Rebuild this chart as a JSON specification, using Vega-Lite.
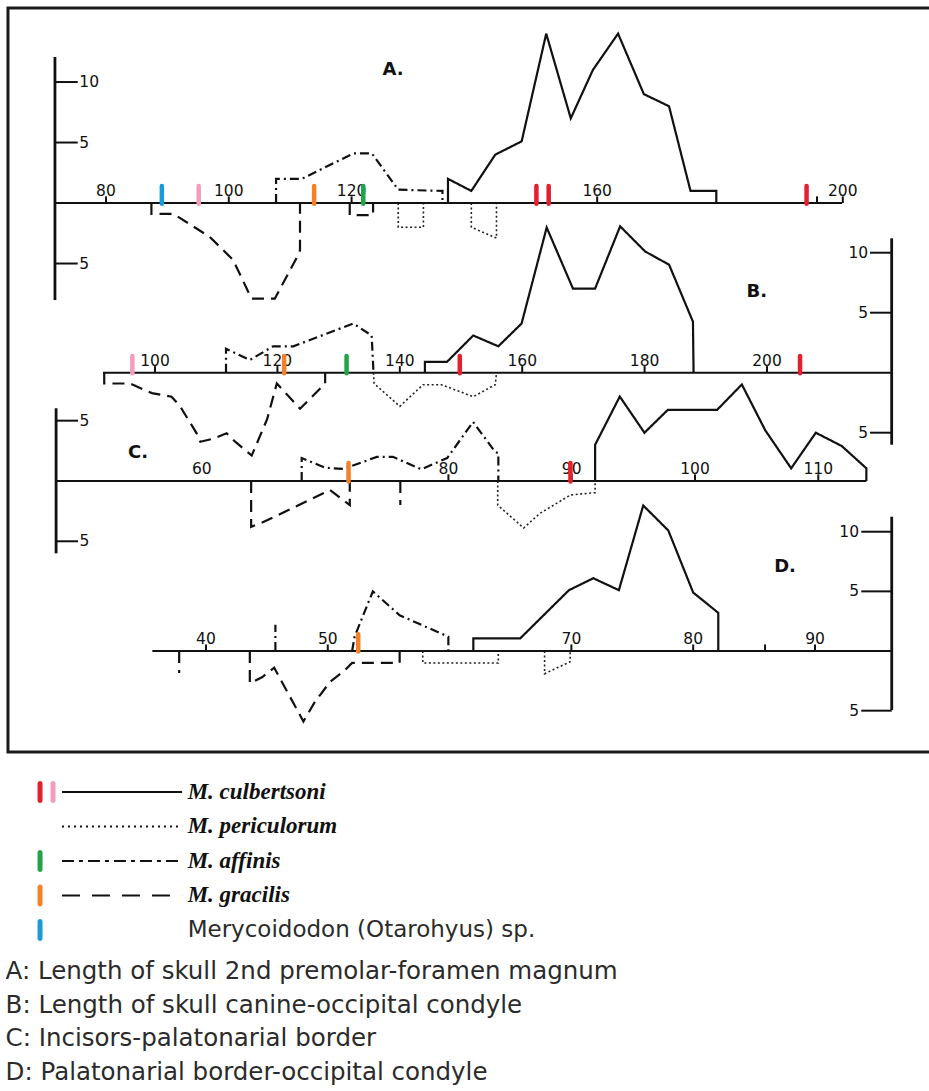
{
  "$schema": "https://vega.github.io/schema/vega-lite/v6.json",
  "width": 929,
  "height": 1091,
  "autosize": {"type": "fit", "contains": "padding"},
  "padding": 0,
  "background": "white",
  "config": {"view": {"stroke": null}, "axis": {"disable": true}},
  "datasets": {
    "curves": [
      {"p":"A","sp":"culbertsoni","seg":1,"i":1,"x":135.7,"y":0},
      {"p":"A","sp":"culbertsoni","seg":1,"i":2,"x":135.7,"y":2},
      {"p":"A","sp":"culbertsoni","seg":1,"i":3,"x":139.5,"y":1},
      {"p":"A","sp":"culbertsoni","seg":1,"i":4,"x":143.4,"y":4},
      {"p":"A","sp":"culbertsoni","seg":1,"i":5,"x":147.7,"y":5.1},
      {"p":"A","sp":"culbertsoni","seg":1,"i":6,"x":151.7,"y":14},
      {"p":"A","sp":"culbertsoni","seg":1,"i":7,"x":155.7,"y":7},
      {"p":"A","sp":"culbertsoni","seg":1,"i":8,"x":159.3,"y":11},
      {"p":"A","sp":"culbertsoni","seg":1,"i":9,"x":163.4,"y":14},
      {"p":"A","sp":"culbertsoni","seg":1,"i":10,"x":167.6,"y":9},
      {"p":"A","sp":"culbertsoni","seg":1,"i":11,"x":171.7,"y":8},
      {"p":"A","sp":"culbertsoni","seg":1,"i":12,"x":175.2,"y":1},
      {"p":"A","sp":"culbertsoni","seg":1,"i":13,"x":179.4,"y":1},
      {"p":"A","sp":"culbertsoni","seg":1,"i":14,"x":179.4,"y":0},
      {"p":"A","sp":"periculorum","seg":1,"i":1,"x":127.6,"y":0},
      {"p":"A","sp":"periculorum","seg":1,"i":2,"x":127.6,"y":-2},
      {"p":"A","sp":"periculorum","seg":1,"i":3,"x":131.7,"y":-2},
      {"p":"A","sp":"periculorum","seg":1,"i":4,"x":131.7,"y":0},
      {"p":"A","sp":"periculorum","seg":2,"i":1,"x":139.5,"y":0},
      {"p":"A","sp":"periculorum","seg":2,"i":2,"x":139.5,"y":-2},
      {"p":"A","sp":"periculorum","seg":2,"i":3,"x":143.6,"y":-2.9},
      {"p":"A","sp":"periculorum","seg":2,"i":4,"x":143.6,"y":0},
      {"p":"A","sp":"affinis","seg":1,"i":1,"x":107.7,"y":0},
      {"p":"A","sp":"affinis","seg":1,"i":2,"x":107.7,"y":2},
      {"p":"A","sp":"affinis","seg":1,"i":3,"x":111.9,"y":2},
      {"p":"A","sp":"affinis","seg":1,"i":4,"x":120.3,"y":4.1},
      {"p":"A","sp":"affinis","seg":1,"i":5,"x":123.3,"y":4.1},
      {"p":"A","sp":"affinis","seg":1,"i":6,"x":127.6,"y":1.1},
      {"p":"A","sp":"affinis","seg":1,"i":7,"x":134.8,"y":1},
      {"p":"A","sp":"affinis","seg":1,"i":8,"x":134.8,"y":0},
      {"p":"A","sp":"gracilis","seg":1,"i":1,"x":87.4,"y":0},
      {"p":"A","sp":"gracilis","seg":1,"i":2,"x":87.4,"y":-0.9},
      {"p":"A","sp":"gracilis","seg":1,"i":3,"x":91.0,"y":-0.9},
      {"p":"A","sp":"gracilis","seg":1,"i":4,"x":96.9,"y":-2.8},
      {"p":"A","sp":"gracilis","seg":1,"i":5,"x":100.7,"y":-4.7},
      {"p":"A","sp":"gracilis","seg":1,"i":6,"x":103.7,"y":-7.9},
      {"p":"A","sp":"gracilis","seg":1,"i":7,"x":107.5,"y":-7.9},
      {"p":"A","sp":"gracilis","seg":1,"i":8,"x":111.4,"y":-4.2},
      {"p":"A","sp":"gracilis","seg":1,"i":9,"x":111.6,"y":-3.9},
      {"p":"A","sp":"gracilis","seg":1,"i":10,"x":111.6,"y":0},
      {"p":"A","sp":"gracilis","seg":2,"i":1,"x":119.7,"y":0},
      {"p":"A","sp":"gracilis","seg":2,"i":2,"x":119.7,"y":-1},
      {"p":"A","sp":"gracilis","seg":2,"i":3,"x":123.5,"y":-1},
      {"p":"A","sp":"gracilis","seg":2,"i":4,"x":123.5,"y":0},

      {"p":"B","sp":"culbertsoni","seg":1,"i":1,"x":144.1,"y":0},
      {"p":"B","sp":"culbertsoni","seg":1,"i":2,"x":144.1,"y":0.9},
      {"p":"B","sp":"culbertsoni","seg":1,"i":3,"x":147.7,"y":0.9},
      {"p":"B","sp":"culbertsoni","seg":1,"i":4,"x":152.0,"y":3.1},
      {"p":"B","sp":"culbertsoni","seg":1,"i":5,"x":156.1,"y":2.2},
      {"p":"B","sp":"culbertsoni","seg":1,"i":6,"x":159.9,"y":4.1},
      {"p":"B","sp":"culbertsoni","seg":1,"i":7,"x":164.0,"y":12.1},
      {"p":"B","sp":"culbertsoni","seg":1,"i":8,"x":168.3,"y":7},
      {"p":"B","sp":"culbertsoni","seg":1,"i":9,"x":171.9,"y":7},
      {"p":"B","sp":"culbertsoni","seg":1,"i":10,"x":176.0,"y":12.2},
      {"p":"B","sp":"culbertsoni","seg":1,"i":11,"x":180.1,"y":10.1},
      {"p":"B","sp":"culbertsoni","seg":1,"i":12,"x":184.0,"y":9},
      {"p":"B","sp":"culbertsoni","seg":1,"i":13,"x":187.9,"y":4.25},
      {"p":"B","sp":"culbertsoni","seg":1,"i":14,"x":188.0,"y":0},
      {"p":"B","sp":"periculorum","seg":1,"i":1,"x":135.7,"y":0},
      {"p":"B","sp":"periculorum","seg":1,"i":2,"x":135.8,"y":-0.9},
      {"p":"B","sp":"periculorum","seg":1,"i":3,"x":140.0,"y":-2.8},
      {"p":"B","sp":"periculorum","seg":1,"i":4,"x":143.8,"y":-1.0},
      {"p":"B","sp":"periculorum","seg":1,"i":5,"x":146.8,"y":-1.0},
      {"p":"B","sp":"periculorum","seg":1,"i":6,"x":152.0,"y":-2.0},
      {"p":"B","sp":"periculorum","seg":1,"i":7,"x":155.6,"y":-1.0},
      {"p":"B","sp":"periculorum","seg":1,"i":8,"x":155.8,"y":0},
      {"p":"B","sp":"affinis","seg":1,"i":1,"x":111.6,"y":0},
      {"p":"B","sp":"affinis","seg":1,"i":2,"x":111.6,"y":2.0},
      {"p":"B","sp":"affinis","seg":1,"i":3,"x":115.5,"y":1.06},
      {"p":"B","sp":"affinis","seg":1,"i":4,"x":119.3,"y":2.2},
      {"p":"B","sp":"affinis","seg":1,"i":5,"x":122.6,"y":2.2},
      {"p":"B","sp":"affinis","seg":1,"i":6,"x":132.4,"y":4.1},
      {"p":"B","sp":"affinis","seg":1,"i":7,"x":135.4,"y":3.1},
      {"p":"B","sp":"affinis","seg":1,"i":8,"x":135.7,"y":0},
      {"p":"B","sp":"gracilis","seg":1,"i":1,"x":91.7,"y":0},
      {"p":"B","sp":"gracilis","seg":1,"i":2,"x":91.7,"y":-0.9},
      {"p":"B","sp":"gracilis","seg":1,"i":3,"x":95.9,"y":-0.9},
      {"p":"B","sp":"gracilis","seg":1,"i":4,"x":99.5,"y":-1.7},
      {"p":"B","sp":"gracilis","seg":1,"i":5,"x":102.7,"y":-2.0},
      {"p":"B","sp":"gracilis","seg":1,"i":6,"x":104.1,"y":-2.8},
      {"p":"B","sp":"gracilis","seg":1,"i":7,"x":106.8,"y":-5.05},
      {"p":"B","sp":"gracilis","seg":1,"i":8,"x":107.4,"y":-5.75},
      {"p":"B","sp":"gracilis","seg":1,"i":9,"x":109.5,"y":-5.5},
      {"p":"B","sp":"gracilis","seg":1,"i":10,"x":111.7,"y":-5.05},
      {"p":"B","sp":"gracilis","seg":1,"i":11,"x":113.1,"y":-5.75},
      {"p":"B","sp":"gracilis","seg":1,"i":12,"x":115.8,"y":-6.9},
      {"p":"B","sp":"gracilis","seg":1,"i":13,"x":118.3,"y":-3.9},
      {"p":"B","sp":"gracilis","seg":1,"i":14,"x":119.9,"y":-0.9},
      {"p":"B","sp":"gracilis","seg":1,"i":15,"x":123.7,"y":-3.0},
      {"p":"B","sp":"gracilis","seg":1,"i":16,"x":127.8,"y":-0.9},
      {"p":"B","sp":"gracilis","seg":1,"i":17,"x":127.8,"y":0},

      {"p":"C","sp":"culbertsoni","seg":1,"i":1,"x":91.9,"y":0},
      {"p":"C","sp":"culbertsoni","seg":1,"i":2,"x":91.9,"y":3},
      {"p":"C","sp":"culbertsoni","seg":1,"i":3,"x":93.9,"y":7},
      {"p":"C","sp":"culbertsoni","seg":1,"i":4,"x":95.9,"y":4},
      {"p":"C","sp":"culbertsoni","seg":1,"i":5,"x":97.8,"y":5.9},
      {"p":"C","sp":"culbertsoni","seg":1,"i":6,"x":101.8,"y":5.9},
      {"p":"C","sp":"culbertsoni","seg":1,"i":7,"x":103.8,"y":8},
      {"p":"C","sp":"culbertsoni","seg":1,"i":8,"x":105.7,"y":4.2},
      {"p":"C","sp":"culbertsoni","seg":1,"i":9,"x":107.8,"y":1.05},
      {"p":"C","sp":"culbertsoni","seg":1,"i":10,"x":109.8,"y":4},
      {"p":"C","sp":"culbertsoni","seg":1,"i":11,"x":111.9,"y":2.9},
      {"p":"C","sp":"culbertsoni","seg":1,"i":12,"x":113.9,"y":1.05},
      {"p":"C","sp":"culbertsoni","seg":1,"i":13,"x":113.9,"y":0},
      {"p":"C","sp":"periculorum","seg":1,"i":1,"x":84.0,"y":0},
      {"p":"C","sp":"periculorum","seg":1,"i":2,"x":84.0,"y":-2.0},
      {"p":"C","sp":"periculorum","seg":1,"i":3,"x":86.1,"y":-3.9},
      {"p":"C","sp":"periculorum","seg":1,"i":4,"x":87.4,"y":-2.7},
      {"p":"C","sp":"periculorum","seg":1,"i":5,"x":89.9,"y":-1.16},
      {"p":"C","sp":"periculorum","seg":1,"i":6,"x":91.9,"y":-0.97},
      {"p":"C","sp":"periculorum","seg":1,"i":7,"x":91.9,"y":0},
      {"p":"C","sp":"affinis","seg":1,"i":1,"x":68.1,"y":0},
      {"p":"C","sp":"affinis","seg":1,"i":2,"x":68.1,"y":1.9},
      {"p":"C","sp":"affinis","seg":1,"i":3,"x":70.0,"y":1.1},
      {"p":"C","sp":"affinis","seg":1,"i":4,"x":71.5,"y":1.0},
      {"p":"C","sp":"affinis","seg":1,"i":5,"x":74.2,"y":2.0},
      {"p":"C","sp":"affinis","seg":1,"i":6,"x":75.5,"y":2.0},
      {"p":"C","sp":"affinis","seg":1,"i":7,"x":77.8,"y":0.97},
      {"p":"C","sp":"affinis","seg":1,"i":8,"x":79.9,"y":1.9},
      {"p":"C","sp":"affinis","seg":1,"i":9,"x":82.0,"y":4.9},
      {"p":"C","sp":"affinis","seg":1,"i":10,"x":83.8,"y":2.4},
      {"p":"C","sp":"affinis","seg":1,"i":11,"x":84.05,"y":2.3},
      {"p":"C","sp":"affinis","seg":1,"i":12,"x":84.05,"y":0},
      {"p":"C","sp":"gracilis","seg":1,"i":1,"x":64.0,"y":0},
      {"p":"C","sp":"gracilis","seg":1,"i":2,"x":64.0,"y":-3.8},
      {"p":"C","sp":"gracilis","seg":1,"i":3,"x":64.9,"y":-3.45},
      {"p":"C","sp":"gracilis","seg":1,"i":4,"x":70.4,"y":-0.75},
      {"p":"C","sp":"gracilis","seg":1,"i":5,"x":72.0,"y":-2.0},
      {"p":"C","sp":"gracilis","seg":1,"i":6,"x":72.0,"y":0},
      {"p":"C","sp":"gracilis","seg":2,"i":1,"x":76.1,"y":0},
      {"p":"C","sp":"gracilis","seg":2,"i":2,"x":76.1,"y":-2.0},

      {"p":"D","sp":"culbertsoni","seg":1,"i":1,"x":61.95,"y":0},
      {"p":"D","sp":"culbertsoni","seg":1,"i":2,"x":61.95,"y":1.06},
      {"p":"D","sp":"culbertsoni","seg":1,"i":3,"x":65.8,"y":1.06},
      {"p":"D","sp":"culbertsoni","seg":1,"i":4,"x":69.8,"y":5.1},
      {"p":"D","sp":"culbertsoni","seg":1,"i":5,"x":71.8,"y":6.1},
      {"p":"D","sp":"culbertsoni","seg":1,"i":6,"x":73.9,"y":5.1},
      {"p":"D","sp":"culbertsoni","seg":1,"i":7,"x":75.9,"y":12.2},
      {"p":"D","sp":"culbertsoni","seg":1,"i":8,"x":77.96,"y":10.1},
      {"p":"D","sp":"culbertsoni","seg":1,"i":9,"x":80.0,"y":4.9},
      {"p":"D","sp":"culbertsoni","seg":1,"i":10,"x":82.06,"y":3.2},
      {"p":"D","sp":"culbertsoni","seg":1,"i":11,"x":82.06,"y":0},
      {"p":"D","sp":"periculorum","seg":1,"i":1,"x":57.8,"y":0},
      {"p":"D","sp":"periculorum","seg":1,"i":2,"x":57.8,"y":-1},
      {"p":"D","sp":"periculorum","seg":1,"i":3,"x":64.0,"y":-1},
      {"p":"D","sp":"periculorum","seg":1,"i":4,"x":64.0,"y":0},
      {"p":"D","sp":"periculorum","seg":2,"i":1,"x":67.8,"y":0},
      {"p":"D","sp":"periculorum","seg":2,"i":2,"x":67.8,"y":-1.9},
      {"p":"D","sp":"periculorum","seg":2,"i":3,"x":69.9,"y":-0.9},
      {"p":"D","sp":"periculorum","seg":2,"i":4,"x":69.9,"y":0},
      {"p":"D","sp":"affinis","seg":1,"i":1,"x":52.0,"y":0},
      {"p":"D","sp":"affinis","seg":1,"i":2,"x":52.2,"y":1.2},
      {"p":"D","sp":"affinis","seg":1,"i":3,"x":53.7,"y":5.0},
      {"p":"D","sp":"affinis","seg":1,"i":4,"x":55.9,"y":3.0},
      {"p":"D","sp":"affinis","seg":1,"i":5,"x":59.9,"y":1.2},
      {"p":"D","sp":"affinis","seg":1,"i":6,"x":59.9,"y":0},
      {"p":"D","sp":"affinis","seg":2,"i":1,"x":45.7,"y":0},
      {"p":"D","sp":"affinis","seg":2,"i":2,"x":45.7,"y":2.2},
      {"p":"D","sp":"gracilis","seg":1,"i":1,"x":37.8,"y":0},
      {"p":"D","sp":"gracilis","seg":1,"i":2,"x":37.8,"y":-1.85},
      {"p":"D","sp":"gracilis","seg":2,"i":1,"x":43.6,"y":0},
      {"p":"D","sp":"gracilis","seg":2,"i":2,"x":43.6,"y":-2.7},
      {"p":"D","sp":"gracilis","seg":2,"i":3,"x":44.6,"y":-2.2},
      {"p":"D","sp":"gracilis","seg":2,"i":4,"x":45.6,"y":-1.4},
      {"p":"D","sp":"gracilis","seg":2,"i":5,"x":48.0,"y":-5.9},
      {"p":"D","sp":"gracilis","seg":2,"i":6,"x":48.95,"y":-4.25},
      {"p":"D","sp":"gracilis","seg":2,"i":7,"x":50.2,"y":-2.57},
      {"p":"D","sp":"gracilis","seg":2,"i":8,"x":51.3,"y":-1.7},
      {"p":"D","sp":"gracilis","seg":2,"i":9,"x":52.0,"y":-1.0},
      {"p":"D","sp":"gracilis","seg":2,"i":10,"x":55.9,"y":-1.0},
      {"p":"D","sp":"gracilis","seg":2,"i":11,"x":55.9,"y":0}
    ],
    "markers": [
      {"p":"A","mk":"otarohyus","x":89.1},
      {"p":"A","mk":"cul_pink","x":95.1},
      {"p":"A","mk":"gracilis","x":113.9},
      {"p":"A","mk":"affinis","x":121.9},
      {"p":"A","mk":"cul_red","x":150.1},
      {"p":"A","mk":"cul_red","x":152.1},
      {"p":"A","mk":"cul_red","x":194.1},
      {"p":"B","mk":"cul_pink","x":96.3},
      {"p":"B","mk":"gracilis","x":121.1},
      {"p":"B","mk":"affinis","x":131.3},
      {"p":"B","mk":"cul_red","x":149.8},
      {"p":"B","mk":"cul_red","x":205.4},
      {"p":"C","mk":"gracilis","x":71.9},
      {"p":"C","mk":"cul_red","x":89.9},
      {"p":"D","mk":"gracilis","x":52.5}
    ],
    "ticks": [
      {"p":"A","x":80,"label":"80"},
      {"p":"A","x":100,"label":"100"},
      {"p":"A","x":120,"label":"120"},
      {"p":"A","x":160,"label":"160"},
      {"p":"A","x":195.8,"label":""},
      {"p":"A","x":200,"label":"200"},
      {"p":"B","x":100,"label":"100"},
      {"p":"B","x":120,"label":"120"},
      {"p":"B","x":140,"label":"140"},
      {"p":"B","x":160,"label":"160"},
      {"p":"B","x":180,"label":"180"},
      {"p":"B","x":200,"label":"200"},
      {"p":"C","x":60,"label":"60"},
      {"p":"C","x":80,"label":"80"},
      {"p":"C","x":90,"label":"90"},
      {"p":"C","x":100,"label":"100"},
      {"p":"C","x":110,"label":"110"},
      {"p":"D","x":40,"label":"40"},
      {"p":"D","x":50,"label":"50"},
      {"p":"D","x":70,"label":"70"},
      {"p":"D","x":80,"label":"80"},
      {"p":"D","x":85.9,"label":""},
      {"p":"D","x":90,"label":"90"}
    ],
    "yticks": [
      {"p":"A","v":10,"label":"10"},
      {"p":"A","v":5,"label":"5"},
      {"p":"A","v":-5,"label":"5"},
      {"p":"B","v":10,"label":"10"},
      {"p":"B","v":5,"label":"5"},
      {"p":"B","v":-5,"label":"5"},
      {"p":"C","v":5,"label":"5"},
      {"p":"C","v":-5,"label":"5"},
      {"p":"D","v":10,"label":"10"},
      {"p":"D","v":5,"label":"5"},
      {"p":"D","v":-5,"label":"5"}
    ],
    "panels": [
      {"p":"A","name":"A."},
      {"p":"B","name":"B."},
      {"p":"C","name":"C."},
      {"p":"D","name":"D."}
    ],
    "legend": [
      {"row":1,"sp":"culbertsoni","name":"M. culbertsoni"},
      {"row":2,"sp":"periculorum","name":"M. periculorum"},
      {"row":3,"sp":"affinis","name":"M. affinis"},
      {"row":4,"sp":"gracilis","name":"M. gracilis"}
    ],
    "legendOther": [
      {"row":5,"name":"Merycoidodon (Otarohyus) sp."}
    ],
    "legendMarks": [
      {"row":1,"mk":"cul_red"},
      {"row":1,"mk":"cul_pink"},
      {"row":3,"mk":"affinis"},
      {"row":4,"mk":"gracilis"},
      {"row":5,"mk":"otarohyus"}
    ],
    "captions": [
      {"k":1,"text":"A: Length of skull 2nd premolar-foramen magnum"},
      {"k":2,"text":"B: Length of skull canine-occipital condyle"},
      {"k":3,"text":"C: Incisors-palatonarial border"},
      {"k":4,"text":"D: Palatonarial border-occipital condyle"}
    ]
  },
  "resolve": {"scale": {"x": "independent", "y": "independent", "color": "independent", "strokeDash": "independent"}},
  "layer": [
    {
      "layer": [
        {"data":{"values":[{}]},"mark":{"type":"rect","fill":"transparent","stroke":"#1a1a1a","strokeWidth":3,"clip":true},
         "encoding":{"x":{"datum":64.04,"type":"quantitative","scale":{"domain":[62.74,214.04],"nice":false,"zero":false}},"x2":{"datum":218},
                     "y":{"datum":16.12,"type":"quantitative","scale":{"domain":[-73.39,16.78],"nice":false,"zero":false}},"y2":{"datum":-45.37}}},
        {"data":{"name":"curves"},"transform":[{"filter":"datum.p==='A' && datum.sp!=='periculorum'"}],
         "mark":{"type":"line","strokeWidth":2.2,"color":"#111","strokeJoin":"miter"},
         "encoding":{"x":{"field":"x","type":"quantitative","scale":{"domain":[62.74,214.04],"nice":false,"zero":false}},
                     "y":{"field":"y","type":"quantitative","scale":{"domain":[-73.39,16.78],"nice":false,"zero":false}},
                     "order":{"field":"i","type":"quantitative"},"detail":{"field":"seg","type":"nominal"},
                     "strokeDash":{"field":"sp","type":"nominal","scale":{"domain":["culbertsoni","affinis","gracilis"],"range":[[1,0],[9,4,2,4],[12,7]]},"legend":null}}},
        {"data":{"name":"curves"},"transform":[{"filter":"datum.p==='A' && datum.sp==='periculorum'"}],
         "mark":{"type":"line","strokeWidth":1.6,"color":"#222","strokeDash":[2,2.5]},
         "encoding":{"x":{"field":"x","type":"quantitative","scale":{"domain":[62.74,214.04],"nice":false,"zero":false}},
                     "y":{"field":"y","type":"quantitative","scale":{"domain":[-73.39,16.78],"nice":false,"zero":false}},
                     "order":{"field":"i","type":"quantitative"},"detail":{"field":"seg","type":"nominal"}}},
        {"data":{"values":[{}]},"mark":{"type":"rule","strokeWidth":2,"color":"#111"},
         "encoding":{"x":{"datum":71.69,"type":"quantitative","scale":{"domain":[62.74,214.04],"nice":false,"zero":false}},"x2":{"datum":199.9},
                     "y":{"datum":0,"type":"quantitative","scale":{"domain":[-73.39,16.78],"nice":false,"zero":false}}}},
        {"data":{"name":"ticks"},"transform":[{"filter":"datum.p==='A'"}],"mark":{"type":"rule","strokeWidth":2,"color":"#111"},
         "encoding":{"x":{"field":"x","type":"quantitative","scale":{"domain":[62.74,214.04],"nice":false,"zero":false}},
                     "y":{"datum":0,"type":"quantitative","scale":{"domain":[-73.39,16.78],"nice":false,"zero":false}},"y2":{"datum":0.55}}},
        {"data":{"name":"ticks"},"transform":[{"filter":"datum.p==='A' && datum.label!==''"}],
         "mark":{"type":"text","font":"DejaVu Sans","fontSize":15.5,"color":"#111","baseline":"alphabetic","dy":-7},
         "encoding":{"x":{"field":"x","type":"quantitative","scale":{"domain":[62.74,214.04],"nice":false,"zero":false}},
                     "y":{"datum":0,"type":"quantitative","scale":{"domain":[-73.39,16.78],"nice":false,"zero":false}},"text":{"field":"label"}}},
        {"data":{"name":"markers"},"transform":[{"filter":"datum.p==='A'"}],"mark":{"type":"rule","strokeWidth":4.5,"strokeCap":"round","opacity":1},
         "encoding":{"x":{"field":"x","type":"quantitative","scale":{"domain":[62.74,214.04],"nice":false,"zero":false}},
                     "y":{"datum":-0.05,"type":"quantitative","scale":{"domain":[-73.39,16.78],"nice":false,"zero":false}},"y2":{"datum":1.4},
                     "color":{"field":"mk","type":"nominal","scale":{"domain":["cul_red","cul_pink","affinis","gracilis","otarohyus"],"range":["#e5202e","#f59bbd","#22a34a","#f58025","#1c9ad6"]},"legend":null}}},
        {"data":{"values":[{}]},"mark":{"type":"rule","strokeWidth":2.8,"color":"#111"},
         "encoding":{"x":{"datum":71.69,"type":"quantitative","scale":{"domain":[62.74,214.04],"nice":false,"zero":false}},
                     "y":{"datum":12.07,"type":"quantitative","scale":{"domain":[-73.39,16.78],"nice":false,"zero":false}},"y2":{"datum":-8.02}}},
        {"data":{"name":"yticks"},"transform":[{"filter":"datum.p==='A'"}],"mark":{"type":"rule","strokeWidth":2,"color":"#111"},
         "encoding":{"x":{"datum":71.69,"type":"quantitative","scale":{"domain":[62.74,214.04],"nice":false,"zero":false}},"x2":{"datum":75.4},
                     "y":{"field":"v","type":"quantitative","scale":{"domain":[-73.39,16.78],"nice":false,"zero":false}}}},
        {"data":{"name":"yticks"},"transform":[{"filter":"datum.p==='A'"}],
         "mark":{"type":"text","font":"DejaVu Sans","fontSize":15.5,"color":"#111","align":"left","baseline":"middle","dx":1},
         "encoding":{"x":{"datum":75.5,"type":"quantitative","scale":{"domain":[62.74,214.04],"nice":false,"zero":false}},
                     "y":{"field":"v","type":"quantitative","scale":{"domain":[-73.39,16.78],"nice":false,"zero":false}},"text":{"field":"label"}}},
        {"data":{"name":"panels"},"transform":[{"filter":"datum.p==='A'"}],
         "mark":{"type":"text","font":"DejaVu Sans","fontWeight":"bold","fontSize":18,"color":"#111","align":"center","baseline":"middle"},
         "encoding":{"x":{"datum":126.74,"type":"quantitative","scale":{"domain":[62.74,214.04],"nice":false,"zero":false}},
                     "y":{"datum":10.99,"type":"quantitative","scale":{"domain":[-73.39,16.78],"nice":false,"zero":false}},"text":{"field":"name"}}}
      ]
    },
    {
      "layer": [
        {"data":{"name":"curves"},"transform":[{"filter":"datum.p==='B' && datum.sp!=='periculorum'"}],
         "mark":{"type":"line","strokeWidth":2.2,"color":"#111","strokeJoin":"miter"},
         "encoding":{"x":{"field":"x","type":"quantitative","scale":{"domain":[74.67,226.47],"nice":false,"zero":false}},
                     "y":{"field":"y","type":"quantitative","scale":{"domain":[-59.86,31.06],"nice":false,"zero":false}},
                     "order":{"field":"i","type":"quantitative"},"detail":{"field":"seg","type":"nominal"},
                     "strokeDash":{"field":"sp","type":"nominal","scale":{"domain":["culbertsoni","affinis","gracilis"],"range":[[1,0],[9,4,2,4],[12,7]]},"legend":null}}},
        {"data":{"name":"curves"},"transform":[{"filter":"datum.p==='B' && datum.sp==='periculorum'"}],
         "mark":{"type":"line","strokeWidth":1.6,"color":"#222","strokeDash":[2,2.5]},
         "encoding":{"x":{"field":"x","type":"quantitative","scale":{"domain":[74.67,226.47],"nice":false,"zero":false}},
                     "y":{"field":"y","type":"quantitative","scale":{"domain":[-59.86,31.06],"nice":false,"zero":false}},
                     "order":{"field":"i","type":"quantitative"},"detail":{"field":"seg","type":"nominal"}}},
        {"data":{"values":[{}]},"mark":{"type":"rule","strokeWidth":2,"color":"#111"},
         "encoding":{"x":{"datum":91.5,"type":"quantitative","scale":{"domain":[74.67,226.47],"nice":false,"zero":false}},"x2":{"datum":220.37},
                     "y":{"datum":0,"type":"quantitative","scale":{"domain":[-59.86,31.06],"nice":false,"zero":false}}}},
        {"data":{"name":"ticks"},"transform":[{"filter":"datum.p==='B'"}],"mark":{"type":"rule","strokeWidth":2,"color":"#111"},
         "encoding":{"x":{"field":"x","type":"quantitative","scale":{"domain":[74.67,226.47],"nice":false,"zero":false}},
                     "y":{"datum":0,"type":"quantitative","scale":{"domain":[-59.86,31.06],"nice":false,"zero":false}},"y2":{"datum":0.55}}},
        {"data":{"name":"ticks"},"transform":[{"filter":"datum.p==='B' && datum.label!==''"}],
         "mark":{"type":"text","font":"DejaVu Sans","fontSize":15.5,"color":"#111","baseline":"alphabetic","dy":-7},
         "encoding":{"x":{"field":"x","type":"quantitative","scale":{"domain":[74.67,226.47],"nice":false,"zero":false}},
                     "y":{"datum":0,"type":"quantitative","scale":{"domain":[-59.86,31.06],"nice":false,"zero":false}},"text":{"field":"label"}}},
        {"data":{"name":"markers"},"transform":[{"filter":"datum.p==='B'"}],"mark":{"type":"rule","strokeWidth":4.5,"strokeCap":"round","opacity":1},
         "encoding":{"x":{"field":"x","type":"quantitative","scale":{"domain":[74.67,226.47],"nice":false,"zero":false}},
                     "y":{"datum":-0.05,"type":"quantitative","scale":{"domain":[-59.86,31.06],"nice":false,"zero":false}},"y2":{"datum":1.4},
                     "color":{"field":"mk","type":"nominal","scale":{"domain":["cul_red","cul_pink","affinis","gracilis","otarohyus"],"range":["#e5202e","#f59bbd","#22a34a","#f58025","#1c9ad6"]},"legend":null}}},
        {"data":{"values":[{}]},"mark":{"type":"rule","strokeWidth":2.8,"color":"#111"},
         "encoding":{"x":{"datum":220.37,"type":"quantitative","scale":{"domain":[74.67,226.47],"nice":false,"zero":false}},
                     "y":{"datum":11.2,"type":"quantitative","scale":{"domain":[-59.86,31.06],"nice":false,"zero":false}},"y2":{"datum":-6.0}}},
        {"data":{"name":"yticks"},"transform":[{"filter":"datum.p==='B'"}],"mark":{"type":"rule","strokeWidth":2,"color":"#111"},
         "encoding":{"x":{"datum":216.83,"type":"quantitative","scale":{"domain":[74.67,226.47],"nice":false,"zero":false}},"x2":{"datum":220.37},
                     "y":{"field":"v","type":"quantitative","scale":{"domain":[-59.86,31.06],"nice":false,"zero":false}}}},
        {"data":{"name":"yticks"},"transform":[{"filter":"datum.p==='B'"}],
         "mark":{"type":"text","font":"DejaVu Sans","fontSize":15.5,"color":"#111","align":"right","baseline":"middle","dx":-1},
         "encoding":{"x":{"datum":216.7,"type":"quantitative","scale":{"domain":[74.67,226.47],"nice":false,"zero":false}},
                     "y":{"field":"v","type":"quantitative","scale":{"domain":[-59.86,31.06],"nice":false,"zero":false}},"text":{"field":"label"}}},
        {"data":{"name":"panels"},"transform":[{"filter":"datum.p==='B'"}],
         "mark":{"type":"text","font":"DejaVu Sans","fontWeight":"bold","fontSize":18,"color":"#111","align":"center","baseline":"middle"},
         "encoding":{"x":{"datum":198.32,"type":"quantitative","scale":{"domain":[74.67,226.47],"nice":false,"zero":false}},
                     "y":{"datum":6.75,"type":"quantitative","scale":{"domain":[-59.86,31.06],"nice":false,"zero":false}},"text":{"field":"name"}}}
      ]
    },
    {
      "layer": [
        {"data":{"name":"curves"},"transform":[{"filter":"datum.p==='C' && datum.sp!=='periculorum'"}],
         "mark":{"type":"line","strokeWidth":2.2,"color":"#111","strokeJoin":"miter"},
         "encoding":{"x":{"field":"x","type":"quantitative","scale":{"domain":[43.63,118.98],"nice":false,"zero":false}},
                     "y":{"field":"y","type":"quantitative","scale":{"domain":[-50.58,39.88],"nice":false,"zero":false}},
                     "order":{"field":"i","type":"quantitative"},"detail":{"field":"seg","type":"nominal"},
                     "strokeDash":{"field":"sp","type":"nominal","scale":{"domain":["culbertsoni","affinis","gracilis"],"range":[[1,0],[9,4,2,4],[12,7]]},"legend":null}}},
        {"data":{"name":"curves"},"transform":[{"filter":"datum.p==='C' && datum.sp==='periculorum'"}],
         "mark":{"type":"line","strokeWidth":1.6,"color":"#222","strokeDash":[2,2.5]},
         "encoding":{"x":{"field":"x","type":"quantitative","scale":{"domain":[43.63,118.98],"nice":false,"zero":false}},
                     "y":{"field":"y","type":"quantitative","scale":{"domain":[-50.58,39.88],"nice":false,"zero":false}},
                     "order":{"field":"i","type":"quantitative"},"detail":{"field":"seg","type":"nominal"}}},
        {"data":{"values":[{}]},"mark":{"type":"rule","strokeWidth":2,"color":"#111"},
         "encoding":{"x":{"datum":48.18,"type":"quantitative","scale":{"domain":[43.63,118.98],"nice":false,"zero":false}},"x2":{"datum":113.9},
                     "y":{"datum":0,"type":"quantitative","scale":{"domain":[-50.58,39.88],"nice":false,"zero":false}}}},
        {"data":{"name":"ticks"},"transform":[{"filter":"datum.p==='C' && datum.x!==60"}],"mark":{"type":"rule","strokeWidth":2,"color":"#111"},
         "encoding":{"x":{"field":"x","type":"quantitative","scale":{"domain":[43.63,118.98],"nice":false,"zero":false}},
                     "y":{"datum":0,"type":"quantitative","scale":{"domain":[-50.58,39.88],"nice":false,"zero":false}},"y2":{"datum":0.55}}},
        {"data":{"name":"ticks"},"transform":[{"filter":"datum.p==='C' && datum.label!==''"}],
         "mark":{"type":"text","font":"DejaVu Sans","fontSize":15.5,"color":"#111","baseline":"alphabetic","dy":-7},
         "encoding":{"x":{"field":"x","type":"quantitative","scale":{"domain":[43.63,118.98],"nice":false,"zero":false}},
                     "y":{"datum":0,"type":"quantitative","scale":{"domain":[-50.58,39.88],"nice":false,"zero":false}},"text":{"field":"label"}}},
        {"data":{"name":"markers"},"transform":[{"filter":"datum.p==='C'"}],"mark":{"type":"rule","strokeWidth":4.5,"strokeCap":"round","opacity":1},
         "encoding":{"x":{"field":"x","type":"quantitative","scale":{"domain":[43.63,118.98],"nice":false,"zero":false}},
                     "y":{"datum":-0.05,"type":"quantitative","scale":{"domain":[-50.58,39.88],"nice":false,"zero":false}},"y2":{"datum":1.5},
                     "color":{"field":"mk","type":"nominal","scale":{"domain":["cul_red","cul_pink","affinis","gracilis","otarohyus"],"range":["#e5202e","#f59bbd","#22a34a","#f58025","#1c9ad6"]},"legend":null}}},
        {"data":{"values":[{}]},"mark":{"type":"rule","strokeWidth":2.8,"color":"#111"},
         "encoding":{"x":{"datum":48.18,"type":"quantitative","scale":{"domain":[43.63,118.98],"nice":false,"zero":false}},
                     "y":{"datum":6.03,"type":"quantitative","scale":{"domain":[-50.58,39.88],"nice":false,"zero":false}},"y2":{"datum":-6.0}}},
        {"data":{"name":"yticks"},"transform":[{"filter":"datum.p==='C'"}],"mark":{"type":"rule","strokeWidth":2,"color":"#111"},
         "encoding":{"x":{"datum":48.18,"type":"quantitative","scale":{"domain":[43.63,118.98],"nice":false,"zero":false}},"x2":{"datum":49.96},
                     "y":{"field":"v","type":"quantitative","scale":{"domain":[-50.58,39.88],"nice":false,"zero":false}}}},
        {"data":{"name":"yticks"},"transform":[{"filter":"datum.p==='C'"}],
         "mark":{"type":"text","font":"DejaVu Sans","fontSize":15.5,"color":"#111","align":"left","baseline":"middle","dx":1},
         "encoding":{"x":{"datum":50.0,"type":"quantitative","scale":{"domain":[43.63,118.98],"nice":false,"zero":false}},
                     "y":{"field":"v","type":"quantitative","scale":{"domain":[-50.58,39.88],"nice":false,"zero":false}},"text":{"field":"label"}}},
        {"data":{"name":"panels"},"transform":[{"filter":"datum.p==='C'"}],
         "mark":{"type":"text","font":"DejaVu Sans","fontWeight":"bold","fontSize":18,"color":"#111","align":"center","baseline":"middle"},
         "encoding":{"x":{"datum":54.83,"type":"quantitative","scale":{"domain":[43.63,118.98],"nice":false,"zero":false}},
                     "y":{"datum":2.3,"type":"quantitative","scale":{"domain":[-50.58,39.88],"nice":false,"zero":false}},"text":{"field":"name"}}}
      ]
    },
    {
      "layer": [
        {"data":{"name":"curves"},"transform":[{"filter":"datum.p==='D' && datum.sp!=='periculorum'"}],
         "mark":{"type":"line","strokeWidth":2.2,"color":"#111","strokeJoin":"miter"},
         "encoding":{"x":{"field":"x","type":"quantitative","scale":{"domain":[23.09,99.36],"nice":false,"zero":false}},
                     "y":{"field":"y","type":"quantitative","scale":{"domain":[-36.88,54.57],"nice":false,"zero":false}},
                     "order":{"field":"i","type":"quantitative"},"detail":{"field":"seg","type":"nominal"},
                     "strokeDash":{"field":"sp","type":"nominal","scale":{"domain":["culbertsoni","affinis","gracilis"],"range":[[1,0],[9,4,2,4],[12,7]]},"legend":null}}},
        {"data":{"name":"curves"},"transform":[{"filter":"datum.p==='D' && datum.sp==='periculorum'"}],
         "mark":{"type":"line","strokeWidth":1.6,"color":"#222","strokeDash":[2,2.5]},
         "encoding":{"x":{"field":"x","type":"quantitative","scale":{"domain":[23.09,99.36],"nice":false,"zero":false}},
                     "y":{"field":"y","type":"quantitative","scale":{"domain":[-36.88,54.57],"nice":false,"zero":false}},
                     "order":{"field":"i","type":"quantitative"},"detail":{"field":"seg","type":"nominal"}}},
        {"data":{"values":[{}]},"mark":{"type":"rule","strokeWidth":2,"color":"#111"},
         "encoding":{"x":{"datum":35.6,"type":"quantitative","scale":{"domain":[23.09,99.36],"nice":false,"zero":false}},"x2":{"datum":96.3},
                     "y":{"datum":0,"type":"quantitative","scale":{"domain":[-36.88,54.57],"nice":false,"zero":false}}}},
        {"data":{"name":"ticks"},"transform":[{"filter":"datum.p==='D'"}],"mark":{"type":"rule","strokeWidth":2,"color":"#111"},
         "encoding":{"x":{"field":"x","type":"quantitative","scale":{"domain":[23.09,99.36],"nice":false,"zero":false}},
                     "y":{"datum":0,"type":"quantitative","scale":{"domain":[-36.88,54.57],"nice":false,"zero":false}},"y2":{"datum":0.55}}},
        {"data":{"name":"ticks"},"transform":[{"filter":"datum.p==='D' && datum.label!==''"}],
         "mark":{"type":"text","font":"DejaVu Sans","fontSize":15.5,"color":"#111","baseline":"alphabetic","dy":-7},
         "encoding":{"x":{"field":"x","type":"quantitative","scale":{"domain":[23.09,99.36],"nice":false,"zero":false}},
                     "y":{"datum":0,"type":"quantitative","scale":{"domain":[-36.88,54.57],"nice":false,"zero":false}},"text":{"field":"label"}}},
        {"data":{"name":"markers"},"transform":[{"filter":"datum.p==='D'"}],"mark":{"type":"rule","strokeWidth":4.5,"strokeCap":"round","opacity":1},
         "encoding":{"x":{"field":"x","type":"quantitative","scale":{"domain":[23.09,99.36],"nice":false,"zero":false}},
                     "y":{"datum":-0.05,"type":"quantitative","scale":{"domain":[-36.88,54.57],"nice":false,"zero":false}},"y2":{"datum":1.4},
                     "color":{"field":"mk","type":"nominal","scale":{"domain":["cul_red","cul_pink","affinis","gracilis","otarohyus"],"range":["#e5202e","#f59bbd","#22a34a","#f58025","#1c9ad6"]},"legend":null}}},
        {"data":{"values":[{}]},"mark":{"type":"rule","strokeWidth":2.8,"color":"#111"},
         "encoding":{"x":{"datum":96.3,"type":"quantitative","scale":{"domain":[23.09,99.36],"nice":false,"zero":false}},
                     "y":{"datum":11.26,"type":"quantitative","scale":{"domain":[-36.88,54.57],"nice":false,"zero":false}},"y2":{"datum":-4.95}}},
        {"data":{"name":"yticks"},"transform":[{"filter":"datum.p==='D'"}],"mark":{"type":"rule","strokeWidth":2,"color":"#111"},
         "encoding":{"x":{"datum":93.8,"type":"quantitative","scale":{"domain":[23.09,99.36],"nice":false,"zero":false}},"x2":{"datum":96.3},
                     "y":{"field":"v","type":"quantitative","scale":{"domain":[-36.88,54.57],"nice":false,"zero":false}}}},
        {"data":{"name":"yticks"},"transform":[{"filter":"datum.p==='D'"}],
         "mark":{"type":"text","font":"DejaVu Sans","fontSize":15.5,"color":"#111","align":"right","baseline":"middle","dx":-1},
         "encoding":{"x":{"datum":93.7,"type":"quantitative","scale":{"domain":[23.09,99.36],"nice":false,"zero":false}},
                     "y":{"field":"v","type":"quantitative","scale":{"domain":[-36.88,54.57],"nice":false,"zero":false}},"text":{"field":"label"}}},
        {"data":{"name":"panels"},"transform":[{"filter":"datum.p==='D'"}],
         "mark":{"type":"text","font":"DejaVu Sans","fontWeight":"bold","fontSize":18,"color":"#111","align":"center","baseline":"middle"},
         "encoding":{"x":{"datum":87.54,"type":"quantitative","scale":{"domain":[23.09,99.36],"nice":false,"zero":false}},
                     "y":{"datum":7.02,"type":"quantitative","scale":{"domain":[-36.88,54.57],"nice":false,"zero":false}},"text":{"field":"name"}}}
      ]
    },
    {
      "layer": [
        {"data":{"name":"legend"},"mark":{"type":"rule","strokeWidth":2,"color":"#111"},
         "encoding":{"x":{"datum":6.67,"type":"quantitative","scale":{"domain":[0,100],"nice":false,"zero":false}},"x2":{"datum":19.6},
                     "y":{"field":"row","type":"quantitative","scale":{"domain":[-21.957,9.667],"reverse":true,"nice":false,"zero":false}},
                     "strokeDash":{"field":"sp","type":"nominal","scale":{"domain":["culbertsoni","periculorum","affinis","gracilis"],"range":[[1,0],[2,4],[12,5,4,5],[18,12]]},"legend":null}}},
        {"data":{"name":"legend"},
         "mark":{"type":"text","font":"Liberation Serif","fontStyle":"italic","fontWeight":"bold","fontSize":23,"color":"#111","align":"left","baseline":"middle"},
         "encoding":{"x":{"datum":20.2,"type":"quantitative","scale":{"domain":[0,100],"nice":false,"zero":false}},
                     "y":{"field":"row","type":"quantitative","scale":{"domain":[-21.957,9.667],"reverse":true,"nice":false,"zero":false}},
                     "text":{"field":"name"}}},
        {"data":{"name":"legendOther"},
         "mark":{"type":"text","font":"DejaVu Sans","fontSize":23,"color":"#2b2b2b","align":"left","baseline":"middle"},
         "encoding":{"x":{"datum":20.2,"type":"quantitative","scale":{"domain":[0,100],"nice":false,"zero":false}},
                     "y":{"field":"row","type":"quantitative","scale":{"domain":[-21.957,9.667],"reverse":true,"nice":false,"zero":false}},
                     "text":{"field":"name"}}},
        {"data":{"name":"legendMarks"},"transform":[{"filter":"datum.mk!=='cul_pink'"}],
         "mark":{"type":"tick","orient":"vertical","thickness":5,"size":22,"cornerRadius":2.5,"opacity":1},
         "encoding":{"x":{"datum":4.31,"type":"quantitative","scale":{"domain":[0,100],"nice":false,"zero":false}},
                     "y":{"field":"row","type":"quantitative","scale":{"domain":[-21.957,9.667],"reverse":true,"nice":false,"zero":false}},
                     "color":{"field":"mk","type":"nominal","scale":{"domain":["cul_red","cul_pink","affinis","gracilis","otarohyus"],"range":["#e5202e","#f59bbd","#22a34a","#f58025","#1c9ad6"]},"legend":null}}},
        {"data":{"name":"legendMarks"},"transform":[{"filter":"datum.mk==='cul_pink'"}],
         "mark":{"type":"tick","orient":"vertical","thickness":5,"size":22,"cornerRadius":2.5,"opacity":1},
         "encoding":{"x":{"datum":5.71,"type":"quantitative","scale":{"domain":[0,100],"nice":false,"zero":false}},
                     "y":{"field":"row","type":"quantitative","scale":{"domain":[-21.957,9.667],"reverse":true,"nice":false,"zero":false}},
                     "color":{"field":"mk","type":"nominal","scale":{"domain":["cul_red","cul_pink","affinis","gracilis","otarohyus"],"range":["#e5202e","#f59bbd","#22a34a","#f58025","#1c9ad6"]},"legend":null}}}
      ]
    },
    {
      "data": {"name": "captions"},
      "mark": {"type":"text","font":"DejaVu Sans","fontSize":24.5,"color":"#2b2b2b","align":"left","baseline":"middle"},
      "encoding": {
        "x": {"datum":0.6,"type":"quantitative","scale":{"domain":[0,100],"nice":false,"zero":false}},
        "y": {"field":"k","type":"quantitative","scale":{"domain":[-27.84,4.531],"reverse":true,"nice":false,"zero":false}},
        "text": {"field":"text"}
      }
    }
  ]
}
